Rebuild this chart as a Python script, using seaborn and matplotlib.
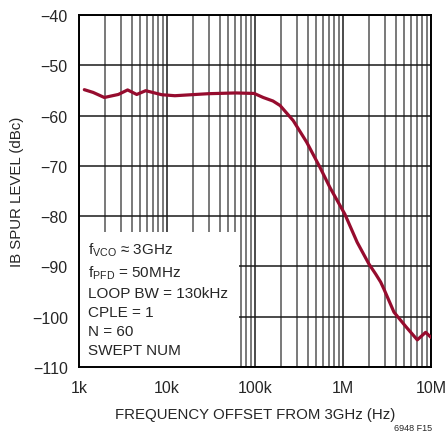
import matplotlib
matplotlib.use('Agg')
import matplotlib.pyplot as plt
from matplotlib.patches import Rectangle
from matplotlib.ticker import FixedLocator, LogLocator, NullFormatter
import seaborn as sns
import pandas as pd

# ---------------- data ----------------
freq_hz = [1.15e3, 1.45e3, 1.94e3, 2.8e3, 3.57e3, 4.53e3, 5.73e3, 8.7e3,
           12.3e3, 29.4e3, 60e3, 98e3, 124e3, 160e3, 193e3, 272e3, 387e3,
           548e3, 711e3, 1.05e6, 1.45e6, 1.97e6, 2.35e6, 2.68e6, 2.92e6,
           3.8e6, 5.2e6, 6.99e6, 8.7e6, 1.0e7]
spur_dbc = [-54.85, -55.4, -56.4, -55.8, -54.9, -55.8, -55.05, -55.85,
            -56.05, -55.65, -55.5, -55.6, -56.4, -57.1, -58.0, -61.0, -65.3,
            -70.3, -74.3, -79.6, -85.2, -89.5, -91.5, -93.1, -94.5,
            -99.1, -102.0, -104.6, -103.1, -104.1]

x_ticks = [1e3, 1e4, 1e5, 1e6, 1e7]
x_labels = ['1k', '10k', '100k', '1M', '10M']
y_ticks = [-110, -100, -90, -80, -70, -60, -50, -40]

note = ('f$_\\mathregular{VCO}$ ≈ 3GHz\n'
        'f$_\\mathregular{PFD}$ = 50MHz\n'
        'LOOP BW = 130kHz\n'
        'CPLE = 1\n'
        'N = 60\n'
        'SWEPT NUM')

df = pd.DataFrame({'freq': freq_hz, 'spur': spur_dbc})

# ---------------- style ----------------
sns.set_style('white')
plt.rcParams['font.family'] = ['Liberation Sans Narrow', 'Liberation Sans', 'DejaVu Sans']
plt.rcParams['mathtext.default'] = 'regular'
plt.rcParams['axes.unicode_minus'] = True

fig = plt.figure(figsize=(4.48, 4.35), dpi=100)
ax = fig.add_axes([0.1763, 0.154, 0.7857, 0.8092])

sns.lineplot(data=df, x='freq', y='spur', ax=ax, color='#960c2e',
             linewidth=2.3, zorder=3)

ax.set_xscale('log')
ax.set_xlim(1e3, 1e7)
ax.set_ylim(-110, -40)
ax.xaxis.set_major_locator(FixedLocator(x_ticks))
ax.set_xticklabels(x_labels)
ax.xaxis.set_minor_locator(LogLocator(base=10, subs=range(2, 10)))
ax.xaxis.set_minor_formatter(NullFormatter())
ax.set_yticks(y_ticks)
ax.set_yticklabels(['\u2212%d' % -v for v in y_ticks])

ax.set_axisbelow(True)
ax.grid(which='major', axis='both', color='#1a1a1a', linewidth=1.1)
ax.grid(which='minor', axis='x', color='#555555', linewidth=1.1)

ax.tick_params(which='both', direction='in', length=0, labelsize=11.5, pad=8)
ax.tick_params(axis='x', pad=9)

for s in ax.spines.values():
    s.set_color('black')
    s.set_linewidth(1.4)

ax.set_xlabel('FREQUENCY OFFSET FROM 3GHz (Hz)', fontsize=10.8, labelpad=9)
ax.set_ylabel('IB SPUR LEVEL (dBc)', fontsize=10.8, labelpad=6)

# white panel behind the conditions text
ax.add_patch(Rectangle((0, 0), 0.4545, 0.3835, transform=ax.transAxes,
                       facecolor='white', edgecolor='none', zorder=1))
ax.text(0.026, 0.36, note, transform=ax.transAxes, fontsize=11,
        va='top', ha='left', linespacing=1.45, zorder=4)

# overlay only for the small inward ticks
ax_t = fig.add_axes(ax.get_position(), sharex=ax, sharey=ax)
ax_t.patch.set_visible(False)
ax_t.tick_params(which='both', direction='in', length=3.5, width=0.8,
                 labelbottom=False, labelleft=False, color='black')
for s in ax_t.spines.values():
    s.set_visible(False)

fig.text(0.964, 0.004, '6948 F15', fontsize=6.5, ha='right', va='bottom')

fig.savefig('out.png', dpi=100)
